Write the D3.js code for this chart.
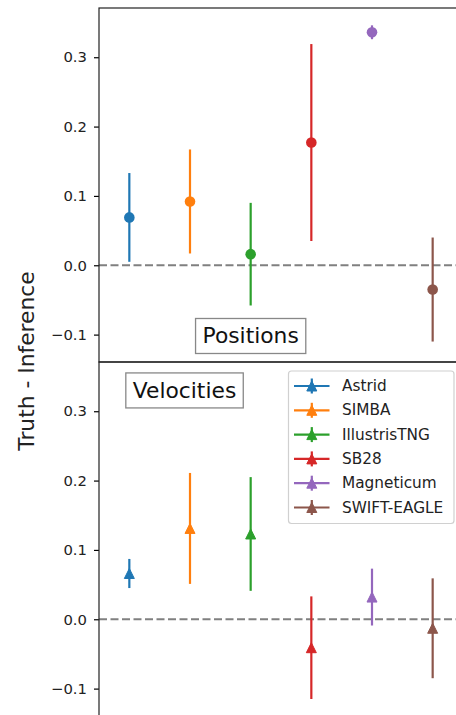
<!DOCTYPE html>
<html>
<head>
<meta charset="utf-8">
<script src="https://cdn.jsdelivr.net/npm/d3@7"></script>
<style>
  html, body { margin: 0; padding: 0; background: #fff; }
  svg { display: block; font-family: "DejaVu Sans", sans-serif; }
</style>
</head>
<body>
<svg id="chart" width="456" height="715"></svg>
<script>
// ---- data ----
const categories = ["Astrid", "SIMBA", "IllustrisTNG", "SB28", "Magneticum", "SWIFT-EAGLE"];
const colors = ["#1f77b4", "#ff7f0e", "#2ca02c", "#d62728", "#9467bd", "#8c564b"];
const posValues = [0.069, 0.092, 0.016, 0.177, 0.336, -0.035];
const posErrors = [0.064, 0.075, 0.074, 0.142, 0.010, 0.075];
const velValues = [0.066, 0.131, 0.123, -0.041, 0.032, -0.013];
const velErrors = [0.021, 0.080, 0.082, 0.074, 0.041, 0.072];
const yTicks = [-0.1, 0.0, 0.1, 0.2, 0.3];
const yDomain = [-0.1395, 0.371];
const panelTitles = ["Positions", "Velocities"];
const yLabel = "Truth - Inference";

// ---- layout ----
const svg = d3.select("#chart");
const left = 99, right = 463;
const panels = [
  { top: 8, bottom: 362, values: posValues, errors: posErrors, marker: "circle",
    title: panelTitles[0], titlePos: [2, -0.102] },
  { top: 362, bottom: 716, values: velValues, errors: velErrors, marker: "triangle",
    title: panelTitles[1], titlePos: [0.91, 0.330] }
];

const x = d3.scaleLinear().domain([-0.5, categories.length - 0.5]).range([left, right]);

function triPath(cx, cy, s) {
  return `M${cx},${cy - s}L${cx - s},${cy + s}L${cx + s},${cy + s}Z`;
}

panels.forEach((p, pi) => {
  const y = d3.scaleLinear().domain(yDomain).range([p.bottom, p.top]);
  const g = svg.append("g");

  // zero dashed line
  g.append("line")
    .attr("x1", left).attr("x2", right)
    .attr("y1", y(0)).attr("y2", y(0))
    .attr("stroke", "#808080").attr("stroke-width", 2.2)
    .attr("stroke-dasharray", "8,3.5");

  // error bars + markers
  categories.forEach((c, i) => {
    const v = p.values[i], e = p.errors[i];
    g.append("line")
      .attr("x1", x(i)).attr("x2", x(i))
      .attr("y1", y(v - e)).attr("y2", y(v + e))
      .attr("stroke", colors[i]).attr("stroke-width", 2.2);
    if (p.marker === "circle") {
      g.append("circle").attr("cx", x(i)).attr("cy", y(v)).attr("r", 5.3)
        .attr("fill", colors[i]);
    } else {
      g.append("path").attr("d", triPath(x(i), y(v), 5)).attr("fill", colors[i])
        .attr("stroke", colors[i]).attr("stroke-width", 1).attr("stroke-linejoin", "miter");
    }
  });

  // axis
  const axis = d3.axisLeft(y).tickValues(yTicks).tickSize(5).tickPadding(7)
    .tickFormat(d => d3.format(".1f")(d).replace("-", "\u2212"));
  const ag = g.append("g").attr("transform", `translate(${left},0)`).call(axis);
  ag.select(".domain").remove();
  ag.selectAll(".tick line").attr("stroke", "#000").attr("stroke-width", 1.2);
  ag.selectAll(".tick text").attr("font-size", 14.8).attr("fill", "#222")
    .attr("font-family", "DejaVu Sans");

  // frame
  g.append("rect").attr("x", left).attr("y", p.top)
    .attr("width", right - left).attr("height", p.bottom - p.top)
    .attr("fill", "none").attr("stroke", "#222").attr("stroke-width", 1.2);

  // title box
  const tg = g.append("g");
  const tt = tg.append("text")
    .attr("x", x(p.titlePos[0])).attr("y", y(p.titlePos[1]))
    .attr("text-anchor", "middle").attr("dominant-baseline", "central")
    .attr("font-size", 21.8).attr("fill", "#111").text(p.title);
  const bb = tt.node().getBBox();
  tg.insert("rect", "text")
    .attr("x", bb.x - 7).attr("y", y(p.titlePos[1]) - 17.5)
    .attr("width", bb.width + 14).attr("height", 35)
    .attr("fill", "#fff").attr("stroke", "#888").attr("stroke-width", 1.3);
});

// legend (bottom panel)
const lg = svg.append("g");
lg.append("rect").attr("x", 288.5).attr("y", 371).attr("width", 165.5).attr("height", 152.5)
  .attr("rx", 3).attr("ry", 3)
  .attr("fill", "rgba(255,255,255,0.85)").attr("stroke", "#d0d0d0").attr("stroke-width", 1.2);
categories.forEach((c, i) => {
  const cy = 386 + i * 24.3;
  const row = lg.append("g");
  row.append("line").attr("x1", 294).attr("x2", 329.5).attr("y1", cy).attr("y2", cy)
    .attr("stroke", colors[i]).attr("stroke-width", 2.2);
  row.append("line").attr("x1", 311.8).attr("x2", 311.8).attr("y1", cy - 7.5).attr("y2", cy + 7.5)
    .attr("stroke", colors[i]).attr("stroke-width", 2.2);
  row.append("path").attr("d", triPath(311.8, cy, 5)).attr("fill", colors[i])
    .attr("stroke", colors[i]).attr("stroke-width", 1);
  row.append("text").attr("x", 342).attr("y", cy).attr("dominant-baseline", "central")
    .attr("font-size", 15.3).attr("fill", "#222").text(c);
});

// y label
svg.append("text")
  .attr("transform", `translate(34,361) rotate(-90)`)
  .attr("text-anchor", "middle")
  .attr("font-size", 21.8).attr("fill", "#222")
  .text(yLabel);
</script>
</body>
</html>
